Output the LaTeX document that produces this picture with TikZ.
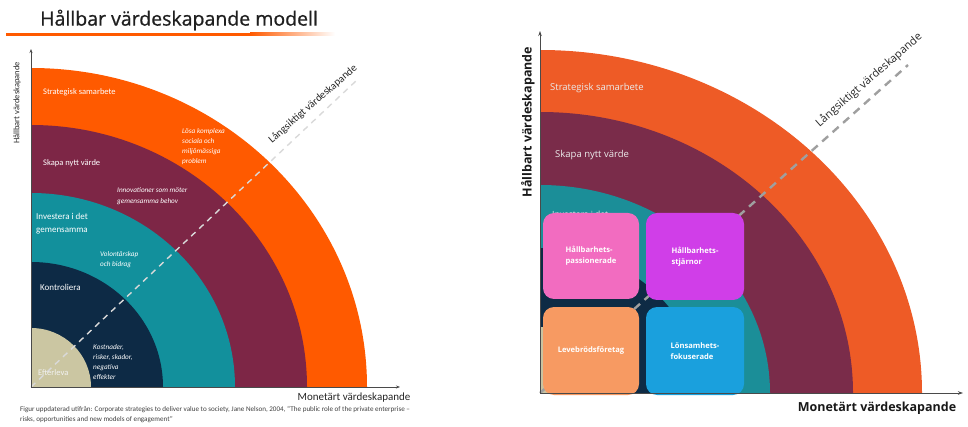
\documentclass[tikz,border=0pt]{standalone}
\usepackage{fontspec}
\setmainfont{Carlito}
\newfontfamily\osans{Open Sans}
\newfontfamily\osanstitle[FakeBold=0.8]{Open Sans}
\usetikzlibrary{arrows.meta}
\definecolor{orL}{HTML}{FF5A00}
\definecolor{maL}{HTML}{7D2646}
\definecolor{teL}{HTML}{12909C}
\definecolor{naL}{HTML}{0D2A45}
\definecolor{beL}{HTML}{CBC6A2}
\definecolor{orR}{HTML}{EE5B26}
\definecolor{maR}{HTML}{7A2C4A}
\definecolor{teR}{HTML}{1B8E98}
\definecolor{naR}{HTML}{0E2B45}
\definecolor{beR}{HTML}{C9C3A0}
\definecolor{pinkR}{HTML}{F26CC0}
\definecolor{purR}{HTML}{D03EE8}
\definecolor{peachR}{HTML}{F79A62}
\definecolor{blueR}{HTML}{1AA0DD}
\definecolor{axisgray}{HTML}{4A4A4A}
\tikzset{
  axisL/.style={draw=axisgray, line width=0.6pt, -{Stealth[length=4pt,width=3pt]}},
  axisR/.style={draw=axisgray, line width=0.8pt, -{Stealth[length=5pt,width=3.5pt]}},
  dashL/.style={draw=white!70!gray, line width=1.4pt, dash pattern=on 6pt off 5pt},
  dashR/.style={draw=gray!75, line width=2.4pt, dash pattern=on 8pt off 6pt},
  ringlab/.style={anchor=west, text=white, font=\fontsize{8.5}{10}\selectfont, inner sep=0pt},
  itlab/.style={anchor=west, text=white, align=left, font=\fontsize{7.2}{10}\selectfont\itshape, inner sep=0pt},
  ringlabR/.style={anchor=west, text=white!92!black, font=\osans\fontsize{9.5}{11}\selectfont, inner sep=0pt},
  boxR/.style={rounded corners=11pt, minimum width=96pt, inner sep=0pt, text=white, align=left, font=\osans\bfseries\fontsize{7.6}{11}\selectfont},
}
\begin{document}
\begin{tikzpicture}[x=1pt,y=-1pt]
\useasboundingbox (0,0) rectangle (968,427);
% ---------- Left ----------
\node[anchor=west, text=black!88, font=\osanstitle\fontsize{19.5}{22}\selectfont, inner sep=0pt] (title) at (40,20) {Hållbar värdeskapande modell};
\fill[orL] (6,33) rectangle (250,36);
\shade[left color=orL, right color=white] (250,33) rectangle (335,36);
\coordinate (LO) at (31,387);
\coordinate (LY) at (31,49);
\coordinate (LX) at (400,387);
\coordinate (LD) at (357,80);
\begin{scope}
\clip (31,40) rectangle (400,387);
\fill[orL] (LO) ellipse [x radius=336pt, y radius=319pt];
\fill[maL] (LO) ellipse [x radius=276pt, y radius=262pt];
\fill[teL] (LO) ellipse [x radius=204pt, y radius=194pt];
\fill[naL] (LO) ellipse [x radius=132pt, y radius=125pt];
\fill[beL] (LO) ellipse [x radius=60pt, y radius=59pt];
\end{scope}
\draw[dashL] (LO) -- (LD);
\draw[axisL] (LO) -- (LY);
\draw[axisL] (LO) -- (LX);
\node[rotate=90, text=black!85, font=\fontsize{8.5}{10}\selectfont, inner sep=0pt] (lyl) at (17,103) {Hållbart värdeskapande};
\node[text=black!85, font=\fontsize{11}{12}\selectfont, inner sep=0pt] (lxl) at (354,398) {Monetärt värdeskapande};
\node[rotate=41, text=black!85, font=\fontsize{10.6}{12}\selectfont, inner sep=0pt] (lll) at (313,104) {Långsiktigt värdeskapande};
\node[ringlab] (l1) at (43,92) {Strategisk samarbete};
\node[ringlab] (l2) at (43,163) {Skapa nytt värde};
\node[ringlab, align=left, font=\fontsize{9}{13}\selectfont] (l3) at (36,224) {Investera i det\\gemensamma};
\node[ringlab, font=\fontsize{9}{11}\selectfont] (l4) at (40,287) {Kontroliera};
\node[ringlab, text=white!95!black] (l5) at (38,373) {Efterleva};
\node[itlab] (i1) at (182,147) {Lösa komplexa\\sociala och\\miljömässiga\\problem};
\node[itlab, font=\fontsize{7.2}{11}\selectfont\itshape] (i2) at (117,196.5) {Innovationer som möter\\gemensamma behov};
\node[itlab] (i3) at (100,260) {Volontärskap\\och bidrag};
\node[itlab] (i4) at (93,362) {Kostnader,\\risker, skador,\\negativa\\effekter};
\node[anchor=west, text=black!75, font=\fontsize{7.1}{10}\selectfont, inner sep=0pt] (f1) at (20,410) {Figur uppdaterad utifrån: Corporate strategies to deliver value to society, Jane Nelson, 2004, “The public role of the private enterprise –};
\node[anchor=west, text=black!75, font=\fontsize{7.1}{10}\selectfont, inner sep=0pt] (f2) at (20,420) {risks, opportunities and new models of engagement”};
% ---------- Right ----------
\coordinate (RO) at (540,393);
\coordinate (RY) at (540,31);
\coordinate (RX) at (963,393);
\coordinate (RD) at (908,65);
\begin{scope}
\clip (540,30) rectangle (965,393);
\fill[orR] (RO) ellipse [x radius=382pt, y radius=343pt];
\fill[maR] (RO) ellipse [x radius=313pt, y radius=281pt];
\fill[teR] (RO) ellipse [x radius=230pt, y radius=208pt];
\fill[naR] (RO) ellipse [x radius=160pt, y radius=145pt];
\fill[beR] (RO) ellipse [x radius=70pt, y radius=66pt];
\end{scope}
\draw[dashR] (RO) -- (RD);
\node[ringlabR] (r1) at (550,88) {Strategisk samarbete};
\node[ringlabR] (r2) at (555,155) {Skapa nytt värde};
\node[ringlabR, font=\osans\fontsize{8.5}{10}\selectfont] (r3) at (552,214) {Investera i det};
\node[boxR, fill=pinkR, minimum height=86pt] (bp) at (591,256) {Hållbarhets-\\passionerade};
\node[boxR, fill=purR, minimum width=98pt, minimum height=87pt] (bs) at (695,256.5) {Hållbarhets-\\stjärnor};
\node[boxR, fill=peachR, minimum height=88pt, align=center] (bl) at (591,351) {Levebrödsföretag};
\node[boxR, fill=blueR, minimum width=98pt, minimum height=88pt] (bf) at (695,351) {Lönsamhets-\\fokuserade};
\draw[axisR] (RO) -- (RY);
\draw[axisR] (RO) -- (RX);
\node[rotate=90, text=black!90, font=\osans\bfseries\fontsize{12.5}{14}\selectfont, inner sep=0pt] (ryl) at (528,122) {Hållbart värdeskapande};
\node[text=black!90, font=\osans\bfseries\fontsize{12.5}{14}\selectfont, inner sep=0pt] (rxl) at (877,408) {Monetärt värdeskapande};
\node[rotate=41, text=black!85, font=\osans\fontsize{11}{12}\selectfont, inner sep=0pt] (rll) at (869,80) {Långsiktigt värdeskapande};
\end{tikzpicture}
\end{document}
